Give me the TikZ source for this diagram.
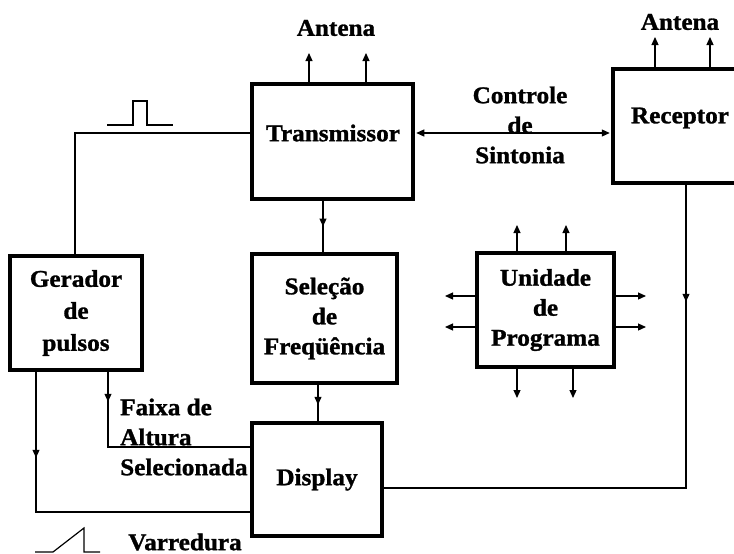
\documentclass[tikz,border=0pt]{standalone}
\usepackage{fontspec}
\setmainfont{Liberation Serif}[FakeStretch=1.05,BoldFeatures={FakeStretch=1.05,FakeBold=1.2}]
\usetikzlibrary{arrows.meta,decorations.markings}
\newcommand\dfont{\bfseries\fontsize{24}{30}\selectfont}
\begin{document}
\begin{tikzpicture}[x=1pt,y=-1pt,
  box/.style={draw,line width=3.5pt,fill=white,inner sep=0pt,align=center,font=\dfont},
  lbl/.style={inner sep=0pt,align=center,font=\dfont},
  conn/.style={line width=1.2pt},
  tip/.style={conn,-{Triangle[length=8pt,width=7pt]}},
  dtip/.style={conn,{Triangle[length=8pt,width=7pt]}-{Triangle[length=8pt,width=7pt]},shorten <=1.5pt,shorten >=1.5pt},
  midarr/.style={conn,postaction={decorate},decoration={markings,mark=at position #1 with {\arrow{Triangle[length=8pt,width=7pt]}}}}
]
\useasboundingbox (0,0) rectangle (734,554);
\clip (0,0) rectangle (734,554);

% boxes
\node[box,minimum width=161pt,minimum height=115pt] (tx) at (332.5,141.5) {};
\node[lbl] (txl) at (333,133) {Transmissor};
\node[box,minimum width=127pt,minimum height=114pt] (rx) at (676.5,126) {};
\node[lbl] (rxl) at (680,118) {Receptor};
\node[box,minimum width=132pt,minimum height=114pt,font=\bfseries\fontsize{24}{32}\selectfont] (ger) at (76,313) {Gerador\\de\\pulsos};
\node[box,minimum width=145pt,minimum height=129pt] (sel) at (324.5,318.5) {Seleção\\de\\Freqüência};
\node[box,minimum width=137pt,minimum height=114pt] (uni) at (545.5,310) {Unidade\\de\\Programa};
\node[box,minimum width=130pt,minimum height=113pt] (disp) at (317,479.5) {Display};

% labels
\node[lbl] (ant1) at (336,28) {Antena};
\node[lbl] (ant2) at (680,22) {Antena};
\node[lbl] (ctl) at (520,125) {Controle\\de\\Sintonia};
\node[lbl,anchor=west,align=left] (fx) at (120,437) {Faixa de\\Altura\\Selecionada};
\node[lbl] (var) at (185,542) {Varredura};

% antennas
\coordinate (ta1) at (309,53); \coordinate (ta2) at (366,53);
\draw[tip] (tx.north -| ta1) -- (ta1);
\draw[tip] (tx.north -| ta2) -- (ta2);
\coordinate (ra1) at (655,37); \coordinate (ra2) at (710,37);
\draw[tip] (rx.north -| ra1) -- (ra1);
\draw[tip] (rx.north -| ra2) -- (ra2);

% tx <-> rx
\draw[dtip] (tx.east |- txl.center) -- (rx.west |- txl.center);

% tx -> sel -> display
\coordinate (c323) at (323,0);
\draw[midarr=0.5] (tx.south -| c323) -- (sel.north -| c323);
\coordinate (c318) at (318,0);
\draw[midarr=0.55] (sel.south -| c318) -- (disp.north -| c318);

% receptor -> display
\coordinate (c686) at (686,488);
\draw[midarr=117pt] (rx.south -| c686) -- (c686) -- (disp.east |- c686);

% pulse line gerador - transmissor
\coordinate (c75) at (75,133);
\draw[conn] (ger.north -| c75) -- (c75) -- (tx.west |- c75);

% gerador -> display
\coordinate (g1) at (36,512);
\draw[midarr=86pt] (ger.south -| g1) -- (g1) -- (disp.west |- g1);
\coordinate (g2) at (108,447);
\draw[midarr=30pt] (ger.south -| g2) -- (g2) -- (disp.west |- g2);

% unidade de programa outputs
\coordinate (u1) at (517,225); \coordinate (u2) at (566,225);
\coordinate (u3) at (517,398); \coordinate (u4) at (573,398);
\coordinate (u5) at (445,296); \coordinate (u6) at (445,327);
\coordinate (u7) at (646,296); \coordinate (u8) at (646,327);
\draw[tip] (uni.north -| u1) -- (u1);
\draw[tip] (uni.north -| u2) -- (u2);
\draw[tip] (uni.south -| u3) -- (u3);
\draw[tip] (uni.south -| u4) -- (u4);
\draw[tip] (uni.west |- u5) -- (u5);
\draw[tip] (uni.west |- u6) -- (u6);
\draw[tip] (uni.east |- u7) -- (u7);
\draw[tip] (uni.east |- u8) -- (u8);

% waveform symbols
\draw[conn] (107,125) -- (133,125) -- (133,101) -- (147,101) -- (147,125) -- (173,125);
\draw[conn] (35,552) -- (53,552) -- (84,528) -- (84,552) -- (100,552);
\end{tikzpicture}
\end{document}
